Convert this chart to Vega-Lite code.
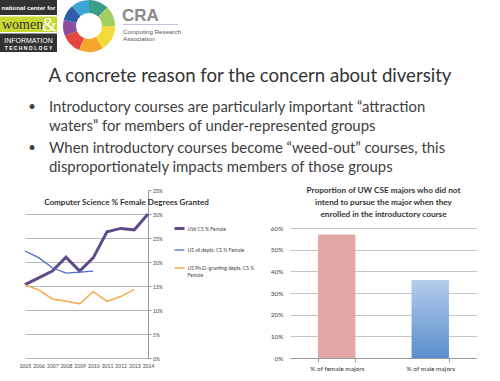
{
  "$schema": "https://vega.github.io/schema/vega-lite/v6.json",
  "padding": 0,
  "autosize": {"type": "pad"},
  "background": "white",
  "config": {"view": {"stroke": null}, "font": "Lato"},
  "columns": 2,
  "align": "none",
  "bounds": "flush",
  "spacing": {"row": 0, "column": 142},
  "resolve": {"scale": {"color": "independent", "strokeWidth": "independent", "fill": "independent"}, "legend": {"color": "independent"}},
  "concat": [
    {
      "width": 123,
      "height": 190,
      "layer": [
        {"data": {"values": [{"part": "ncwit top"}]}, "mark": {"type": "rect", "fill": "#333333"},
         "encoding": {"x": {"value": -25}, "x2": {"value": 32}, "y": {"value": 0}, "y2": {"value": 15}}},
        {"data": {"values": [{"part": "ncwit middle"}]}, "mark": {"type": "rect", "fill": "#c8d932"},
         "encoding": {"x": {"value": -25}, "x2": {"value": 32}, "y": {"value": 16.5}, "y2": {"value": 32}}},
        {"data": {"values": [{"part": "ncwit bottom"}]}, "mark": {"type": "rect", "fill": "#333333"},
         "encoding": {"x": {"value": -25}, "x2": {"value": 32}, "y": {"value": 33.5}, "y2": {"value": 52}}},
        {"data": {"values": [{"t": "national center for"}]},
         "mark": {"type": "text", "font": "Liberation Sans", "fontWeight": "bold", "fontSize": 6.2, "color": "white", "align": "center", "baseline": "middle"},
         "encoding": {"text": {"field": "t"}, "x": {"value": 3.5}, "y": {"value": 8}}},
        {"data": {"values": [{"t": "women"}]},
         "mark": {"type": "text", "font": "Liberation Serif", "fontSize": 14, "color": "#333333", "align": "left", "baseline": "alphabetic"},
         "encoding": {"text": {"field": "t"}, "x": {"value": -23}, "y": {"value": 29}}},
        {"data": {"values": [{"t": "&"}]},
         "mark": {"type": "text", "font": "Liberation Serif", "fontSize": 19, "color": "white", "align": "left", "baseline": "alphabetic"},
         "encoding": {"text": {"field": "t"}, "x": {"value": 17}, "y": {"value": 31}}},
        {"data": {"values": [{"t": "INFORMATION"}]},
         "mark": {"type": "text", "font": "Liberation Sans", "fontSize": 7, "color": "white", "align": "center", "baseline": "alphabetic"},
         "encoding": {"text": {"field": "t"}, "x": {"value": 3.5}, "y": {"value": 43}}},
        {"data": {"values": [{"t": "T E C H N O L O G Y"}]},
         "mark": {"type": "text", "font": "Liberation Sans", "fontWeight": "bold", "fontSize": 5, "color": "white", "align": "center", "baseline": "alphabetic"},
         "encoding": {"text": {"field": "t"}, "x": {"value": 3.5}, "y": {"value": 50}}},
        {"data": {"values": [
          {"idx": 1, "seg": "teal", "w": 1}, {"idx": 2, "seg": "green", "w": 1}, {"idx": 3, "seg": "yellow", "w": 1.3},
          {"idx": 4, "seg": "orange", "w": 1.2}, {"idx": 5, "seg": "red", "w": 1}, {"idx": 6, "seg": "purple", "w": 0.8},
          {"idx": 7, "seg": "blue", "w": 0.8}, {"idx": 8, "seg": "sky", "w": 0.9}]},
         "mark": {"type": "arc", "outerRadius": 26, "innerRadius": 13},
         "encoding": {
           "theta": {"field": "w", "type": "quantitative", "stack": true},
           "order": {"field": "idx", "type": "quantitative"},
           "color": {"field": "seg", "type": "nominal", "legend": null,
             "scale": {"domain": ["teal", "green", "yellow", "orange", "red", "purple", "blue", "sky"],
                       "range": ["#3a9f86", "#a3cf62", "#f4d93c", "#f5a52c", "#e5463f", "#8c4c9c", "#2f5ea8", "#3aa7d7"]}},
           "x": {"value": 64}, "y": {"value": 26}}},
        {"data": {"values": [{"t": "CRA"}]},
         "mark": {"type": "text", "font": "Liberation Sans", "fontWeight": "bold", "fontSize": 17, "color": "#8a8a8a", "align": "left", "baseline": "alphabetic"},
         "encoding": {"text": {"field": "t"}, "x": {"value": 97}, "y": {"value": 21}}},
        {"data": {"values": [{"part": "cra rule"}]}, "mark": {"type": "rule", "stroke": "#c4bfdd", "strokeWidth": 1},
         "encoding": {"x": {"value": 98}, "x2": {"value": 153}, "y": {"value": 24.5}}},
        {"data": {"values": [{"t": "Computing Research"}]},
         "mark": {"type": "text", "font": "Liberation Sans", "fontSize": 6.2, "color": "#555555", "align": "left", "baseline": "alphabetic"},
         "encoding": {"text": {"field": "t"}, "x": {"value": 98}, "y": {"value": 33.5}}},
        {"data": {"values": [{"t": "Association"}]},
         "mark": {"type": "text", "font": "Liberation Sans", "fontSize": 6.2, "color": "#555555", "align": "left", "baseline": "alphabetic"},
         "encoding": {"text": {"field": "t"}, "x": {"value": 98}, "y": {"value": 40.5}}},
        {"data": {"values": [{"t": "A concrete reason for the concern about diversity"}]},
         "mark": {"type": "text", "fontSize": 18.6, "color": "#333333", "align": "center", "baseline": "alphabetic"},
         "encoding": {"text": {"field": "t"}, "x": {"value": 225}, "y": {"value": 81.5}}},
        {"data": {"values": [{"t": "•"}]},
         "mark": {"type": "text", "fontSize": 13, "color": "#404040", "align": "center", "baseline": "alphabetic"},
         "encoding": {"text": {"field": "t"}, "x": {"value": 7}, "y": {"value": 111}}},
        {"data": {"values": [{"t": "•"}]},
         "mark": {"type": "text", "fontSize": 13, "color": "#404040", "align": "center", "baseline": "alphabetic"},
         "encoding": {"text": {"field": "t"}, "x": {"value": 7}, "y": {"value": 151.5}}},
        {"data": {"values": [{"t": "Introductory courses are particularly important “attraction"}]},
         "mark": {"type": "text", "fontSize": 14.9, "color": "#404040", "align": "left", "baseline": "alphabetic"},
         "encoding": {"text": {"field": "t"}, "x": {"value": 24}, "y": {"value": 112}}},
        {"data": {"values": [{"t": "waters” for members of under-represented groups"}]},
         "mark": {"type": "text", "fontSize": 14.9, "color": "#404040", "align": "left", "baseline": "alphabetic"},
         "encoding": {"text": {"field": "t"}, "x": {"value": 24}, "y": {"value": 131}}},
        {"data": {"values": [{"t": "When introductory courses become “weed-out” courses, this"}]},
         "mark": {"type": "text", "fontSize": 14.9, "color": "#404040", "align": "left", "baseline": "alphabetic"},
         "encoding": {"text": {"field": "t"}, "x": {"value": 24}, "y": {"value": 152.5}}},
        {"data": {"values": [{"t": "disproportionately impacts members of those groups"}]},
         "mark": {"type": "text", "fontSize": 14.9, "color": "#404040", "align": "left", "baseline": "alphabetic"},
         "encoding": {"text": {"field": "t"}, "x": {"value": 24}, "y": {"value": 171.5}}}
      ]
    },
    {
      "width": 187,
      "height": 190,
      "data": {"values": []},
      "mark": {"type": "point"},
      "encoding": {}
    },
    {
      "width": 123,
      "height": 168,
      "title": {"text": "Computer Science % Female Degrees Granted", "fontSize": 8.1, "fontWeight": "bold", "color": "#333333", "anchor": "middle", "dx": 40, "offset": -25, "baseline": "alphabetic"},
      "data": {"values": [
        {"series": "UW CS % Female", "year": 2005, "pct": 15.3},
        {"series": "UW CS % Female", "year": 2006, "pct": 16.7},
        {"series": "UW CS % Female", "year": 2007, "pct": 18.1},
        {"series": "UW CS % Female", "year": 2008, "pct": 21.0},
        {"series": "UW CS % Female", "year": 2009, "pct": 18.1},
        {"series": "UW CS % Female", "year": 2010, "pct": 20.9},
        {"series": "UW CS % Female", "year": 2011, "pct": 26.3},
        {"series": "UW CS % Female", "year": 2012, "pct": 27.0},
        {"series": "UW CS % Female", "year": 2013, "pct": 26.7},
        {"series": "UW CS % Female", "year": 2014, "pct": 30.0},
        {"series": "US all depts. CS % Female", "year": 2005, "pct": 22.3},
        {"series": "US all depts. CS % Female", "year": 2006, "pct": 20.9},
        {"series": "US all depts. CS % Female", "year": 2007, "pct": 18.8},
        {"series": "US all depts. CS % Female", "year": 2008, "pct": 17.7},
        {"series": "US all depts. CS % Female", "year": 2009, "pct": 17.9},
        {"series": "US all depts. CS % Female", "year": 2010, "pct": 18.1},
        {"series": "US Ph.D.-granting depts. CS % Female", "year": 2005, "pct": 15.2},
        {"series": "US Ph.D.-granting depts. CS % Female", "year": 2006, "pct": 14.2},
        {"series": "US Ph.D.-granting depts. CS % Female", "year": 2007, "pct": 12.3},
        {"series": "US Ph.D.-granting depts. CS % Female", "year": 2008, "pct": 11.8},
        {"series": "US Ph.D.-granting depts. CS % Female", "year": 2009, "pct": 11.3},
        {"series": "US Ph.D.-granting depts. CS % Female", "year": 2010, "pct": 13.8},
        {"series": "US Ph.D.-granting depts. CS % Female", "year": 2011, "pct": 11.8},
        {"series": "US Ph.D.-granting depts. CS % Female", "year": 2012, "pct": 12.8},
        {"series": "US Ph.D.-granting depts. CS % Female", "year": 2013, "pct": 14.3}
      ]},
      "mark": {"type": "line", "strokeJoin": "miter"},
      "encoding": {
        "x": {"field": "year", "type": "quantitative",
              "scale": {"domain": [2005, 2014], "nice": false, "zero": false},
              "axis": {"title": null, "values": [2005, 2006, 2007, 2008, 2009, 2010, 2011, 2012, 2013, 2014], "format": "d", "grid": false, "domain": false, "ticks": false, "labelFontSize": 5, "labelColor": "#444444", "labelPadding": 5, "labelFlush": false}},
        "y": {"field": "pct", "type": "quantitative",
              "scale": {"domain": [0, 35], "nice": false},
              "axis": {"title": null, "orient": "right", "values": [0, 5, 10, 15, 20, 25, 30, 35], "labelExpr": "datum.value + '%'", "grid": true, "gridColor": "#b8b8b8", "gridOpacity": {"condition": {"test": "datum.value === 35", "value": 0}, "value": 1}, "domainColor": "#999999", "tickColor": "#999999", "tickSize": 3, "labelFontSize": 5, "labelColor": "#444444", "labelPadding": 1.5}},
        "color": {"field": "series", "type": "nominal",
                  "scale": {"domain": ["UW CS % Female", "US all depts. CS % Female", "US Ph.D.-granting depts. CS % Female"], "range": ["#5f4b8b", "#4a6cc3", "#f8a84a"]},
                  "legend": {"title": null, "orient": "none", "legendX": 148, "legendY": 32, "symbolType": "stroke", "symbolSize": 100, "symbolStrokeWidth": 1.5, "labelFontSize": 5, "labelColor": "#444444", "labelOffset": 1.5, "rowPadding": 9, "padding": 0, "labelLimit": 300,
                             "labelExpr": "datum.label == 'US Ph.D.-granting depts. CS % Female' ? ['US Ph.D.-granting depts. CS %', 'Female'] : datum.label",
                             "encode": {"symbols": {"update": {"strokeWidth": {"signal": "datum.label == 'UW CS % Female' ? 3 : 1.4"}}}}}},
        "strokeWidth": {"field": "series", "type": "nominal",
                        "scale": {"type": "ordinal", "domain": ["UW CS % Female", "US all depts. CS % Female", "US Ph.D.-granting depts. CS % Female"], "range": [3, 1.3, 1.5]},
                        "legend": null}
      }
    },
    {
      "width": 187,
      "height": 168,
      "title": {"text": ["Proportion of UW CSE majors who did not", "intend to pursue the major when they", "enrolled in the introductory course"], "fontSize": 8.2, "fontWeight": "bold", "color": "#333333", "anchor": "middle", "offset": -29, "lineHeight": 12},
      "data": {"values": [
        {"group": "% of female majors", "share": 57},
        {"group": "% of male majors", "share": 36}
      ]},
      "mark": {"type": "bar"},
      "encoding": {
        "x": {"field": "group", "type": "nominal", "sort": null,
              "scale": {"paddingInner": 0.6, "paddingOuter": 0.3},
              "axis": {"title": null, "labelAngle": 0, "labelFontSize": 6.5, "labelColor": "#333333", "domainColor": "#9a9a9a", "tickColor": "#9a9a9a", "tickBand": "extent", "tickSize": 4, "labelPadding": 3}},
        "y": {"field": "share", "type": "quantitative",
              "scale": {"domain": [0, 77.54], "nice": false},
              "axis": {"title": null, "values": [0, 10, 20, 30, 40, 50, 60], "labelExpr": "datum.value + '%'", "domain": false, "ticks": false, "gridColor": "#c6c6c6", "labelFontSize": 6.5, "labelColor": "#444444", "labelPadding": 7}},
        "fill": {"condition": {"test": "datum.group === '% of male majors'",
                               "value": {"gradient": "linear", "x1": 0, "y1": 0, "x2": 0, "y2": 1, "stops": [{"offset": 0, "color": "#b3cdec"}, {"offset": 1, "color": "#5a8ecb"}]}},
                 "value": "#e2a6a5"}
      }
    }
  ]
}
